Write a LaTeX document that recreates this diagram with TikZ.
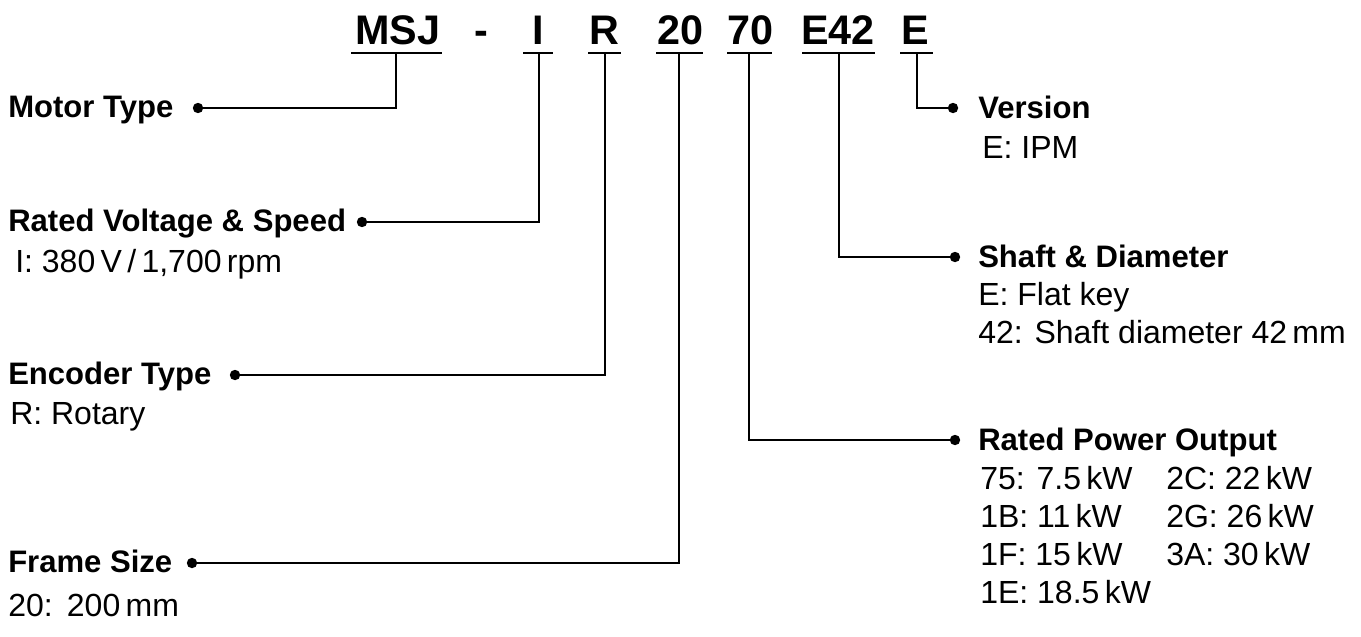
\documentclass[tikz,border=0pt]{standalone}
\usepackage{fontspec}
\setmainfont{Liberation Sans}
\begin{document}
\begin{tikzpicture}[x=0.75pt,y=-0.75pt,
  code/.style={font=\fontsize{31}{36}\selectfont\bfseries, anchor=base, inner sep=0pt},
  lbl/.style={font=\fontsize{23.3}{28}\selectfont\bfseries, anchor=base west, inner sep=0pt},
  val/.style={font=\fontsize{24}{28}\selectfont, anchor=base west, inner sep=0pt},
  wire/.style={line width=1.9pt, line join=miter},
  dotmark/.style={fill=black}]
\useasboundingbox (0,0) rectangle (1361,636);

% code
\node[code] (cMSJ) at (398,44) {MSJ};
\node[code] (cDash) at (481,44) {-};
\node[code] (cI) at (538,44) {I};
\node[code] (cR) at (604,44) {R};
\node[code] (c20) at (680,44) {20};
\node[code] (c70) at (750,44) {70};
\node[code] (cE42) at (838,44) {E42};
\node[code] (cE) at (915,44) {E};

% underlines
\draw[wire] (351,53) -- (442,53);
\draw[wire] (523,53) -- (553,53);
\draw[wire] (588,53) -- (621,53);
\draw[wire] (656,53) -- (703,53);
\draw[wire] (727,53) -- (772,53);
\draw[wire] (802,53) -- (875,53);
\draw[wire] (900,53) -- (933,53);

\coordinate (uMSJ) at (396,53);
\coordinate (uI) at (539,53);
\coordinate (uR) at (605,53);
\coordinate (u20) at (679,53);
\coordinate (u70) at (749,53);
\coordinate (uE42) at (839,53);
\coordinate (uE) at (917,53);

% left labels
\node[lbl] (lMotor) at (8,117) {Motor Type};
\node[lbl] (lVolt) at (8,231) {Rated Voltage \& Speed};
\node[val] (vVolt) at (15,272) {I: 380\,V\,/\,1,700\,rpm};
\node[lbl] (lEnc) at (8,384) {Encoder Type};
\node[val] (vEnc) at (10,424) {R: Rotary};
\node[lbl] (lFrame) at (8,572) {Frame Size};
\node[val] (vFrame) at (8,616) {20:\ \,200\,mm};

% right labels
\node[lbl] (lVer) at (978,118) {Version};
\node[val] (vVer) at (982,158) {E: IPM};
\node[lbl] (lShaft) at (978,267) {Shaft \& Diameter};
\node[val] (vShaft1) at (978,305) {E: Flat key};
\node[val] (vShaft2) at (978,343) {42: Shaft diameter 42\,mm};
\node[lbl] (lPow) at (978,450) {Rated Power Output};
\node[val] (p1) at (980,489) {75: 7.5\,kW};
\node[val] (p2) at (1166,489) {2C: 22\,kW};
\node[val] (p3) at (980,527) {1B: 11\,kW};
\node[val] (p4) at (1166,527) {2G: 26\,kW};
\node[val] (p5) at (980,565) {1F: 15\,kW};
\node[val] (p6) at (1166,565) {3A: 30\,kW};
\node[val] (p7) at (980,603) {1E: 18.5\,kW};

% dots
\coordinate (dMotor) at (198,108);
\coordinate (dVolt) at (362,222);
\coordinate (dEnc) at (235,375);
\coordinate (dFrame) at (192,563);
\coordinate (dVer) at (953,108);
\coordinate (dShaft) at (955,257);
\coordinate (dPow) at (955,440);

\draw[wire] (uMSJ) |- (dMotor);
\draw[wire] (uI) |- (dVolt);
\draw[wire] (uR) |- (dEnc);
\draw[wire] (u20) |- (dFrame);
\draw[wire] (uE) |- (dVer);
\draw[wire] (uE42) |- (dShaft);
\draw[wire] (u70) |- (dPow);

\foreach \d in {dMotor,dVolt,dEnc,dFrame,dVer,dShaft,dPow}
  \fill[dotmark] (\d) circle (3.9pt);
\end{tikzpicture}
\end{document}
